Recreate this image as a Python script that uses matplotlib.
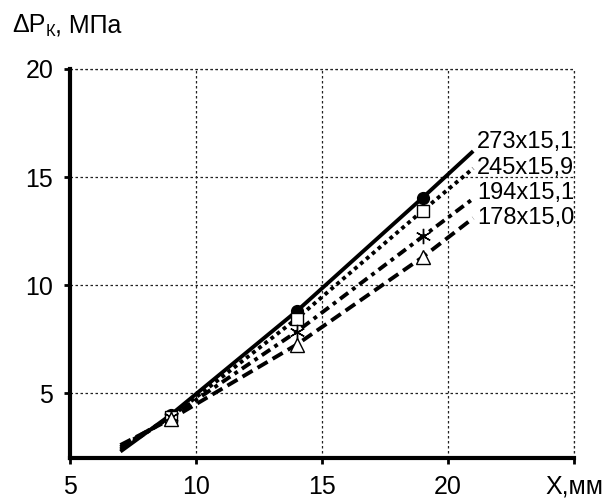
import matplotlib
matplotlib.use("Agg")
import matplotlib.pyplot as plt

plt.rcParams['font.family'] = ['Liberation Sans', 'DejaVu Sans']

# --- données ---
x_pts = [7, 9, 14, 19, 21]
x_marks = [9, 14, 19]

series_names = ['273x15,1', '245x15,9', '194x15,1', '178x15,0']
dp_273 = [2.3, 4.0, 8.8, 14.05, 16.2]
dp_245 = [2.4, 3.9, 8.45, 13.45, 15.4]
dp_194 = [2.5, 3.9, 7.85, 12.25, 14.0]
dp_178 = [2.6, 3.8, 7.25, 11.3, 13.1]

x_ticks = [5, 10, 15, 20, 25]
x_ticklabels = ['5', '10', '15', '20', 'Х,мм']
y_ticks = [5, 10, 15, 20]

fig = plt.figure(figsize=(6.15, 5.01), dpi=100)
ax = fig.add_axes([0.1138, 0.0858, 0.8195, 0.7765])

styles = [
    dict(ls='-', marker='o', mfc='black', ms=8.5),
    dict(ls=(0, (1, 1)), marker='s', mfc='white', ms=9),
    dict(ls=(0, (2.6, 1.3, 1, 1.3)), marker=(6, 2, 0), mfc='black', ms=11),
    dict(ls=(0, (3, 1.5)), marker='^', mfc='white', ms=10),
]
all_series = [dp_273, dp_245, dp_194, dp_178]
label_y = [16.6, 15.4, 14.25, 13.1]

for name, ys, st, ly in zip(series_names, all_series, styles, label_y):
    ax.plot(x_pts, ys, color='black', lw=2.8, linestyle=st['ls'],
            solid_capstyle='butt', dash_capstyle='butt', zorder=3)
    # marqueurs aux points mesurés (9, 14, 19 mm)
    ym = [ys[x_pts.index(xm)] for xm in x_marks]
    ax.plot(x_marks, ym, ls='none', marker=st['marker'], ms=st['ms'],
            mfc=st['mfc'], mec='black', mew=1.0, zorder=4)
    ax.text(21.15, ly, name, fontsize=17, va='center', ha='left')

ax.set_xlim(5, 25)
ax.set_ylim(2, 20)
ax.set_xticks(x_ticks)
ax.set_xticklabels(x_ticklabels)
ax.set_yticks(y_ticks)
ax.tick_params(labelsize=18, length=4, width=2, direction='out')
ax.tick_params(axis='x', pad=8)
ax.tick_params(axis='y', pad=8)

grid_ls = (0, (2, 2))
ax.grid(True, color='#222222', linestyle=grid_ls, linewidth=0.9)
for side in ['top', 'right']:
    ax.spines[side].set_visible(False)
for side in ['left', 'bottom']:
    ax.spines[side].set_linewidth(3)

# bord haut et droit en pointillés comme la grille
ax.axhline(20, color='#222222', linestyle=grid_ls, linewidth=0.9, clip_on=False)
ax.axvline(25, color='#222222', linestyle=grid_ls, linewidth=0.9, clip_on=False)

# titre de l'axe Y : ΔPк, МПа
t1 = fig.text(0.02, 0.95, 'ΔP', fontsize=18, va='center', ha='left')
t2 = ax.annotate('К', xy=(1, 0), xycoords=t1, fontsize=12, va='bottom', ha='left',
                 xytext=(0, -1.5), textcoords='offset points')
ax.annotate(', МПа', xy=(1, 0), xycoords=t2, fontsize=18, va='bottom', ha='left',
            xytext=(0, 1.5), textcoords='offset points')

plt.savefig('out.png', dpi=100)
